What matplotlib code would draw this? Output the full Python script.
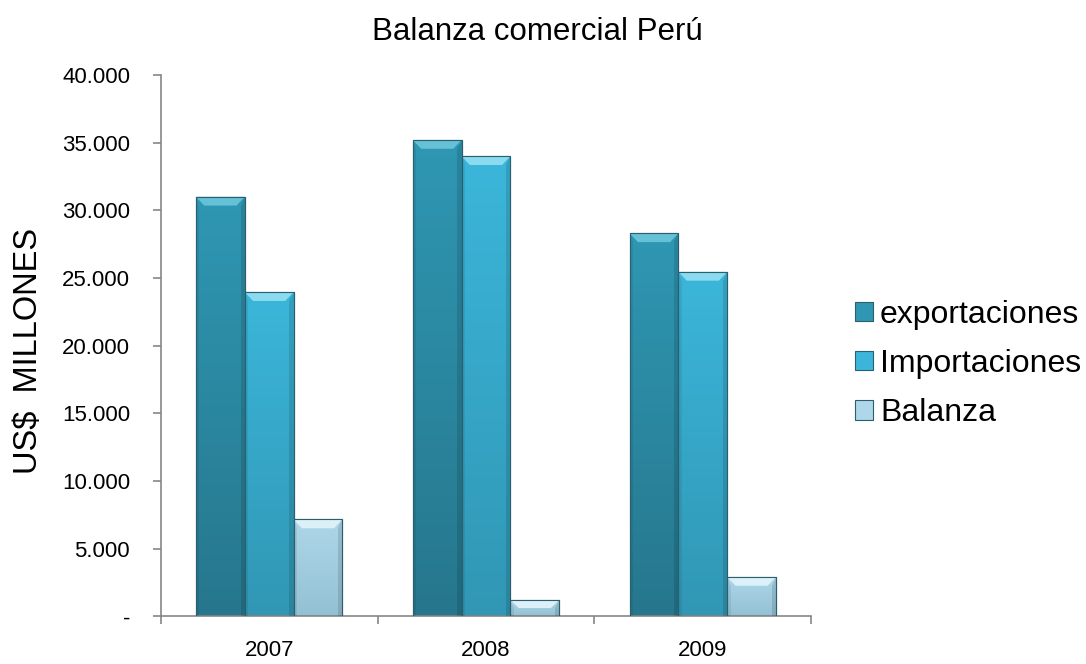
import numpy as np
import matplotlib.pyplot as plt
from matplotlib.patches import Polygon
from matplotlib.colors import LinearSegmentedColormap
from matplotlib.ticker import FuncFormatter

plt.rcParams['font.family'] = ['Liberation Sans', 'DejaVu Sans']

# Datos (US$ millones)
years = ['2007', '2008', '2009']
exportaciones = [31000, 35200, 28300]
importaciones = [23950, 34000, 25450]
balanza = [7150, 1200, 2900]

# nombre, valores, color arriba, color abajo, color bisel
series = [
    ('exportaciones', exportaciones, '#2f97b3', '#26778d', '#66c0d6'),
    ('Importaciones', importaciones, '#3bb6da', '#3197b5', '#8adbef'),
    ('Balanza', balanza, '#aed7e9', '#93c1d4', '#dcf0f8'),
]

fig = plt.figure(figsize=(10.86, 6.64), dpi=100)
ax = fig.add_axes([0.148, 0.072, 0.599, 0.815])

x = np.arange(len(years))
width = 0.225
offsets = [-width, 0, width]
grad = np.linspace(0, 1, 100).reshape(-1, 1)

for (name, vals, c_top, c_bot, light), off in zip(series, offsets):
    bars = ax.bar(x + off, vals, width, color=c_top, edgecolor='#2a5f6e',
                  linewidth=0.8, label=name, zorder=2)
    cmap = LinearSegmentedColormap.from_list(name, [c_bot, c_top])
    for b in bars:
        bx, bw, bh = b.get_x(), b.get_width(), b.get_height()
        # degradado vertical dentro de la barra
        im = ax.imshow(grad, extent=[bx, bx + bw, 0, bh], origin='lower',
                       cmap=cmap, aspect='auto', zorder=2.1)
        im.set_clip_path(b)
        # bisel superior
        d = min(bh * 0.5, 650)
        dx = bw * 0.17
        ax.add_patch(Polygon([[bx, bh], [bx + bw, bh], [bx + bw - dx, bh - d],
                              [bx + dx, bh - d]], closed=True,
                             facecolor=light, edgecolor='none', zorder=3))
        # laterales más oscuros
        ax.add_patch(Polygon([[bx + bw, bh], [bx + bw, 0], [bx + bw - dx * 0.5, 0],
                              [bx + bw - dx * 0.5, bh - d]], closed=True,
                             facecolor='black', alpha=0.12, edgecolor='none', zorder=3))
        ax.add_patch(Polygon([[bx, bh], [bx, 0], [bx + dx * 0.4, 0],
                              [bx + dx * 0.4, bh - d]], closed=True,
                             facecolor='black', alpha=0.07, edgecolor='none', zorder=3))
        ax.add_patch(plt.Rectangle((bx, 0), bw, bh, fill=False,
                                   edgecolor='#2a5f6e', linewidth=0.8, zorder=3.5))

ax.set_xlim(-0.5, 2.5)
ax.set_ylim(0, 40000)
ax.set_yticks(np.arange(0, 40001, 5000))
ax.yaxis.set_major_formatter(FuncFormatter(
    lambda v, p: '-' if v == 0 else f"{int(v):,}".replace(',', '.')))
ax.set_xticks(x)
ax.set_xticklabels(years)
ax.set_xticks([-0.5, 0.5, 1.5, 2.5], minor=True)
ax.tick_params(axis='x', which='major', length=0, labelsize=16, pad=17)
ax.tick_params(axis='x', which='minor', length=6, direction='out', color='#868686', width=1.2)
ax.tick_params(axis='y', length=6, direction='out', color='#868686', width=1.2,
               labelsize=16, pad=16)

for s in ['top', 'right']:
    ax.spines[s].set_visible(False)
for s in ['left', 'bottom']:
    ax.spines[s].set_color('#868686')
    ax.spines[s].set_linewidth(1.2)

ax.set_ylabel('US$  MILLONES', fontsize=23.5)
ax.yaxis.set_label_coords(-0.18, 0.49)
fig.text(0.495, 0.94, 'Balanza comercial Perú', ha='center', va='baseline', fontsize=22.5)

ax.legend(loc='center left', bbox_to_anchor=(1.068, 0.466), frameon=False,
          fontsize=23, handlelength=0.55, handleheight=0.55, handletextpad=0.22,
          labelspacing=0.6, borderpad=0, borderaxespad=0)

plt.savefig('out.png', dpi=100)
